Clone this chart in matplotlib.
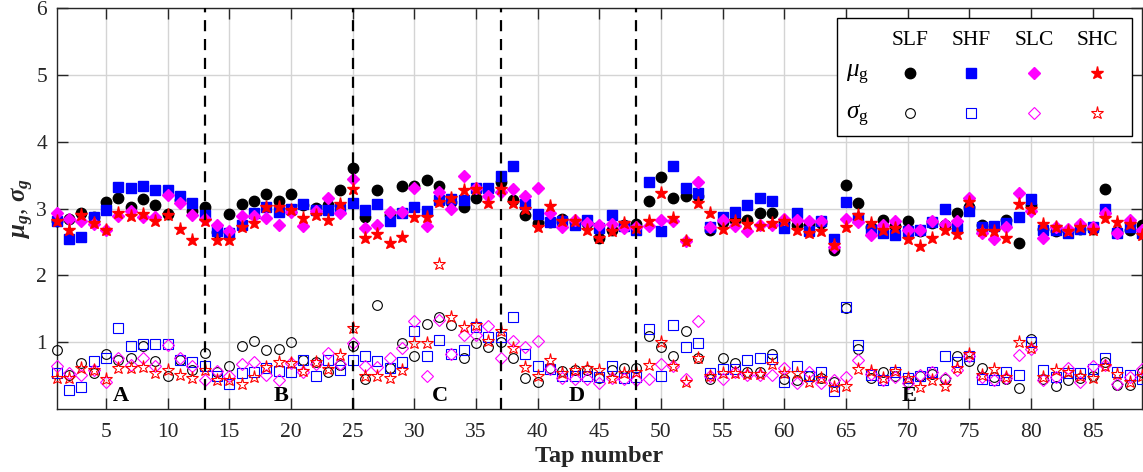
import numpy as np
import matplotlib
matplotlib.use('Agg')
import matplotlib.pyplot as plt
from matplotlib.patches import Rectangle

plt.rcParams['font.family'] = ['Liberation Serif', 'DejaVu Serif']
plt.rcParams['mathtext.fontset'] = 'custom'
plt.rcParams['mathtext.rm'] = 'Liberation Serif'
plt.rcParams['mathtext.it'] = 'Liberation Serif:italic'
plt.rcParams['mathtext.bf'] = 'Liberation Serif:bold'
plt.rcParams['mathtext.bfit'] = 'Liberation Serif:italic:bold'

# tap numbers 1..89
taps = np.arange(1, 90)

mu_slf = [2.82, 2.84, 2.93, 2.87, 3.09, 3.16, 3.03, 3.14, 3.05, 2.92,
          3.12, 2.96, 3.03, 2.65, 2.92, 3.06, 3.11, 3.21, 3.11, 3.21,
          3.05, 3.01, 3.05, 3.28, 3.61, 2.87, 3.27, 2.90, 3.34, 3.34,
          3.43, 3.34, 3.10, 3.03, 3.16, 3.28, 3.40, 3.12, 2.90, 2.78,
          2.80, 2.85, 2.80, 2.78, 2.56, 2.68, 2.75, 2.77, 3.11, 3.47,
          3.16, 3.19, 3.18, 2.68, 2.80, 2.83, 2.83, 2.94, 2.94, 2.80,
          2.76, 2.76, 2.78, 2.38, 3.35, 3.08, 2.72, 2.83, 2.74, 2.82,
          2.67, 2.78, 2.76, 2.94, 3.03, 2.76, 2.72, 2.83, 2.49, 3.05,
          2.70, 2.66, 2.66, 2.70, 2.70, 3.29, 2.65, 2.68, 2.76]
mu_shf = [2.81, 2.54, 2.57, 2.88, 2.98, 3.32, 3.30, 3.34, 3.28, 3.27,
          3.18, 3.08, 2.90, 2.66, 2.63, 2.76, 2.93, 3.03, 2.95, 3.00,
          3.06, 2.98, 2.98, 2.99, 3.08, 2.98, 3.07, 2.82, 2.93, 3.02,
          2.97, 3.13, 3.14, 3.13, 3.31, 3.31, 3.49, 3.64, 3.06, 2.92,
          2.80, 2.81, 2.75, 2.83, 2.71, 2.91, 2.74, 2.68, 3.39, 2.66,
          3.64, 3.30, 3.23, 2.73, 2.88, 2.95, 3.05, 3.15, 3.11, 2.71,
          2.94, 2.66, 2.81, 2.54, 3.09, 2.86, 2.68, 2.63, 2.61, 2.66,
          2.68, 2.80, 2.99, 2.71, 2.96, 2.72, 2.74, 2.78, 2.88, 3.14,
          2.68, 2.68, 2.63, 2.70, 2.72, 2.99, 2.63, 2.72, 2.63]
mu_slc = [2.94, 2.85, 2.82, 2.77, 2.68, 2.89, 2.96, 2.87, 2.87, 3.20,
          3.08, 2.90, 2.85, 2.76, 2.67, 2.89, 2.89, 2.86, 2.76, 2.95,
          2.74, 2.96, 3.16, 2.93, 3.44, 2.71, 2.76, 2.95, 2.95, 3.31,
          2.74, 3.25, 2.99, 3.49, 3.30, 3.19, 3.25, 3.29, 3.18, 3.31,
          2.93, 2.73, 2.83, 2.78, 2.76, 2.77, 2.71, 2.73, 2.74, 2.83,
          2.82, 2.52, 3.40, 2.73, 2.83, 2.74, 2.67, 2.76, 2.76, 2.84,
          2.83, 2.82, 2.82, 2.42, 2.84, 2.80, 2.61, 2.75, 2.81, 2.68,
          2.68, 2.82, 2.77, 2.82, 3.16, 2.63, 2.54, 2.73, 3.23, 2.96,
          2.56, 2.73, 2.70, 2.77, 2.72, 2.94, 2.64, 2.83, 2.68]
mu_shc = [2.81, 2.68, 2.91, 2.79, 2.68, 2.93, 2.89, 2.92, 2.82, 2.90,
          2.70, 2.53, 2.82, 2.53, 2.53, 2.72, 2.78, 3.02, 3.02, 2.98,
          2.86, 2.90, 2.83, 3.06, 3.29, 2.56, 2.62, 2.48, 2.58, 2.88,
          2.88, 3.09, 3.15, 3.28, 3.29, 3.08, 3.29, 3.08, 2.99, 2.73,
          3.04, 2.82, 2.82, 2.68, 2.56, 2.66, 2.79, 2.71, 2.82, 3.23,
          2.86, 2.51, 3.08, 2.93, 2.70, 2.82, 2.77, 2.74, 2.78, 2.81,
          2.68, 2.64, 2.67, 2.46, 2.72, 2.90, 2.78, 2.68, 2.71, 2.54,
          2.44, 2.56, 2.68, 2.62, 3.09, 2.67, 2.67, 2.56, 3.07, 3.00,
          2.77, 2.72, 2.66, 2.72, 2.68, 2.86, 2.80, 2.77, 2.61]

sig_slf = [0.89, 0.51, 0.69, 0.54, 0.83, 0.74, 0.76, 0.95, 0.72, 0.49,
           0.73, 0.59, 0.84, 0.56, 0.65, 0.94, 1.02, 0.89, 0.90, 1.00,
           0.74, 0.70, 0.56, 0.66, 0.94, 0.45, 1.56, 0.61, 0.99, 0.80,
           1.27, 1.38, 1.26, 0.76, 0.99, 0.93, 1.00, 0.76, 0.46, 0.41,
           0.62, 0.57, 0.59, 0.59, 0.47, 0.59, 0.61, 0.61, 1.09, 0.93,
           0.79, 1.17, 0.77, 0.45, 0.77, 0.69, 0.56, 0.56, 0.82, 0.45,
           0.44, 0.50, 0.46, 0.40, 1.51, 0.90, 0.46, 0.55, 0.50, 0.41,
           0.50, 0.53, 0.45, 0.80, 0.72, 0.61, 0.48, 0.45, 0.32, 1.04,
           0.45, 0.34, 0.43, 0.46, 0.50, 0.70, 0.36, 0.36, 0.55]
sig_shf = [0.54, 0.29, 0.33, 0.72, 0.76, 1.21, 0.95, 0.97, 0.97, 0.97,
           0.73, 0.71, 0.65, 0.50, 0.37, 0.54, 0.55, 0.61, 0.57, 0.56,
           0.74, 0.50, 0.73, 0.59, 0.73, 0.80, 0.72, 0.62, 0.71, 1.16,
           0.80, 1.03, 0.83, 0.89, 1.22, 1.08, 1.08, 1.37, 0.82, 0.65,
           0.60, 0.50, 0.50, 0.50, 0.48, 0.64, 0.46, 0.48, 1.19, 0.49,
           1.26, 0.93, 0.99, 0.54, 0.60, 0.60, 0.73, 0.76, 0.75, 0.41,
           0.65, 0.49, 0.55, 0.27, 1.52, 0.96, 0.51, 0.43, 0.56, 0.47,
           0.50, 0.56, 0.79, 0.70, 0.79, 0.45, 0.44, 0.56, 0.51, 1.00,
           0.59, 0.48, 0.54, 0.54, 0.60, 0.77, 0.56, 0.51, 0.45]
sig_slc = [0.65, 0.54, 0.51, 0.59, 0.41, 0.76, 0.66, 0.76, 0.65, 0.96,
           0.76, 0.64, 0.43, 0.57, 0.50, 0.68, 0.71, 0.51, 0.43, 0.69,
           0.56, 0.68, 0.84, 0.68, 0.99, 0.64, 0.63, 0.77, 0.91, 1.31,
           0.50, 1.33, 0.83, 1.11, 1.11, 1.24, 0.76, 1.01, 0.93, 1.02,
           0.60, 0.46, 0.45, 0.45, 0.39, 0.46, 0.45, 0.44, 0.45, 0.68,
           0.65, 0.45, 1.32, 0.50, 0.45, 0.56, 0.51, 0.51, 0.51, 0.61,
           0.39, 0.56, 0.39, 0.44, 0.48, 0.74, 0.53, 0.43, 0.48, 0.39,
           0.51, 0.56, 0.46, 0.59, 0.79, 0.48, 0.44, 0.46, 0.81, 0.90,
           0.43, 0.48, 0.61, 0.41, 0.64, 0.66, 0.38, 0.48, 0.60]
sig_shc = [0.46, 0.46, 0.62, 0.59, 0.45, 0.62, 0.61, 0.63, 0.54, 0.59,
           0.51, 0.46, 0.58, 0.44, 0.44, 0.37, 0.48, 0.63, 0.71, 0.69,
           0.57, 0.71, 0.60, 0.81, 1.21, 0.49, 0.49, 0.47, 0.58, 0.99,
           0.99, 2.17, 1.37, 1.22, 1.26, 1.02, 1.16, 0.91, 0.63, 0.50,
           0.74, 0.54, 0.59, 0.61, 0.59, 0.46, 0.54, 0.56, 0.66, 1.00,
           0.64, 0.41, 0.77, 0.50, 0.54, 0.54, 0.53, 0.52, 0.68, 0.54,
           0.54, 0.41, 0.46, 0.33, 0.34, 0.60, 0.57, 0.46, 0.57, 0.46,
           0.33, 0.44, 0.34, 0.61, 0.83, 0.51, 0.60, 0.48, 1.00, 0.91,
           0.48, 0.58, 0.56, 0.50, 0.46, 0.64, 0.53, 0.41, 0.50]

names = ['SLF', 'SHF', 'SLC', 'SHC']
colors = ['k', 'b', '#ff00ff', 'r']
markers = ['o', 's', 'D', '*']
ms_fill = [7.5, 6.5, 6.5, 9.5]
ms_open = [7.0, 6.5, 6.5, 9.5]
mu_all = [mu_slf, mu_shf, mu_slc, mu_shc]
sig_all = [sig_slf, sig_shf, sig_slc, sig_shc]

# section boundaries and zone letters
bounds = [13, 25, 37, 48]
zone_names = ['A', 'B', 'C', 'D', 'E']
zone_pos = [6.2, 19.2, 32.1, 43.2, 70.1]

fig = plt.figure(figsize=(11.43, 4.72), dpi=100)
ax = fig.add_axes([0.0496, 0.1335, 0.9494, 0.8495])

axcol = '#262626'
for i in range(4):
    ax.plot(taps, mu_all[i], linestyle='none', marker=markers[i], ms=ms_fill[i],
            color=colors[i], mec=colors[i], clip_on=False, zorder=3)
for i in range(4):
    ax.plot(taps, sig_all[i], linestyle='none', marker=markers[i], ms=ms_open[i],
            mfc='none', mec=colors[i], mew=0.8, clip_on=False, zorder=3)

for b in bounds:
    ax.axvline(b, color='k', ls=(0, (5, 3.5)), lw=1.6, zorder=4)

for name, xp in zip(zone_names, zone_pos):
    ax.text(xp, 0.19, name, fontsize=16, fontweight='bold', ha='center', va='center')

ax.set_xlim(1, 89)
ax.set_ylim(0, 6)
ax.set_xticks(np.arange(5, 90, 5))
ax.set_yticks([1, 2, 3, 4, 5, 6])
ax.grid(True, color='#d4d4d4', lw=1.0, zorder=0)
ax.set_axisbelow(True)
ax.tick_params(direction='in', length=8, width=1, top=True, right=True,
               labelsize=15.5, colors=axcol, pad=7)
ax.tick_params(axis='x', pad=10)
for s in ax.spines.values():
    s.set_color(axcol)
    s.set_linewidth(1)

ax.set_xlabel('Tap number', fontsize=17.5, fontweight='bold', color=axcol, labelpad=3)
ax.set_ylabel(r'$\mathbfit{\mu_g}$, $\mathbfit{\sigma_g}$', fontsize=18, color=axcol, labelpad=0)

# table-style legend
tr = ax.transAxes
ax.add_patch(Rectangle((0.7188, 0.6817), 0.2717, 0.2941, transform=tr,
                       facecolor='white', edgecolor='k', lw=1, zorder=5))
col_x = [0.786, 0.843, 0.901, 0.959]
for i in range(4):
    ax.text(col_x[i], 0.92, names[i], transform=tr, fontsize=15.5, ha='center',
            va='center', zorder=6)
    ax.plot(col_x[i], 0.838, transform=tr, marker=markers[i], ms=ms_fill[i],
            color=colors[i], linestyle='none', zorder=6, clip_on=False)
    ax.plot(col_x[i], 0.738, transform=tr, marker=markers[i], ms=ms_open[i],
            mfc='none', mec=colors[i], mew=0.8, linestyle='none', zorder=6, clip_on=False)
ax.text(0.738, 0.832, r'$\mu_\mathrm{g}$', transform=tr, fontsize=18, ha='center',
        va='center', zorder=6)
ax.text(0.738, 0.732, r'$\sigma_\mathrm{g}$', transform=tr, fontsize=18, ha='center',
        va='center', zorder=6)

fig.savefig('out.png', dpi=100)
